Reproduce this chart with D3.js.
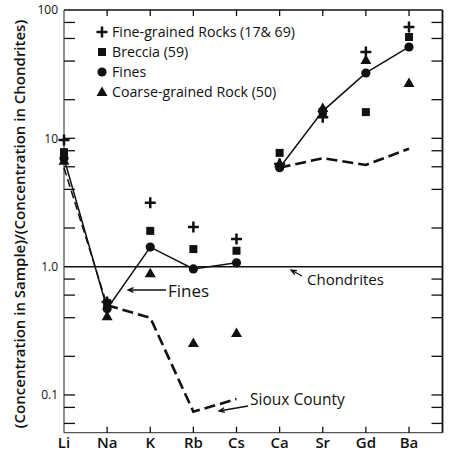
<!DOCTYPE html>
<html>
<head>
<meta charset="utf-8">
<script src="https://cdn.jsdelivr.net/npm/d3@7"></script>
<style>
  body { margin: 0; background: #fff; }
  text { font-family: "Open Sans", "DejaVu Sans", sans-serif; fill: #111; }
</style>
</head>
<body>
<script>
// Data
// =================================
var elements = ["Li", "Na", "K", "Rb", "Cs", "Ca", "Sr", "Gd", "Ba"];

var fineGrained = [9.7, 0.53, 3.14, 2.04, 1.64, 6.3, 14.6, 47, 73.7];
var breccia     = [7.8, 0.52, 1.9, 1.37, 1.33, 7.7, 16.0, 16.0, 61.6];
var fines       = [7.0, 0.47, 1.42, 0.96, 1.07, 5.9, 16.3, 32.3, 51.5];
var coarse      = [6.7, 0.41, 0.89, 0.254, 0.304, 6.4, 17.2, 40.8, 27.0];
var siouxCounty = [5.9, 0.5, 0.4, 0.074, 0.093, 5.9, 7.0, 6.2, 8.3];
var siouxGap = 5; // no dashed segment between Cs and Ca

var minorTicks = [0.06, 0.08, 0.2, 0.4, 0.6, 0.8, 2, 4, 6, 8, 20, 40, 60, 80];
var majorTicks = [0.1, 1, 10, 100];
var majorLabels = ["0.1", "1.0", "10", "100"];

var legendLabels = ["Fine-grained Rocks (17& 69)", "Breccia (59)", "Fines", "Coarse-grained Rock (50)"];
var legendShapes = ["plus", "square", "circle", "triangle"];

// Step 1: chart setup
// =================================
var svgWidth = 451;
var svgHeight = 453;
var plotLeft = 64, plotRight = 442.5, plotTop = 10, plotBottom = 432.7;

var svg = d3.select("body").append("svg")
  .attr("width", svgWidth)
  .attr("height", svgHeight);

svg.append("rect").attr("width", svgWidth).attr("height", svgHeight).attr("fill", "#fff");

var xScale = d3.scalePoint().domain(elements).range([64, 409]);
var yScale = d3.scaleLog().domain([0.0508, 100]).range([plotBottom, plotTop]);

// Step 2: frame and ticks
// =================================
var frame = svg.append("g").attr("stroke", "#111").attr("fill", "none");
frame.append("line").attr("x1", plotLeft).attr("x2", plotRight).attr("y1", plotTop).attr("y2", plotTop).attr("stroke-width", 1.4);
frame.append("line").attr("x1", plotLeft).attr("x2", plotRight).attr("y1", plotBottom).attr("y2", plotBottom).attr("stroke-width", 1.2).attr("stroke", "#555");
frame.append("line").attr("x1", plotLeft).attr("x2", plotLeft).attr("y1", plotTop).attr("y2", plotBottom).attr("stroke-width", 1.1).attr("stroke", "#333");
frame.append("line").attr("x1", plotRight).attr("x2", plotRight).attr("y1", plotTop).attr("y2", plotBottom).attr("stroke-width", 1.8);

var yTicks = minorTicks.concat([0.1, 10]);
frame.selectAll(".lt").data(yTicks).enter().append("line")
  .attr("x1", plotLeft).attr("x2", plotLeft + 11)
  .attr("y1", d => yScale(d)).attr("y2", d => yScale(d))
  .attr("stroke-width", 1.3);
frame.selectAll(".rt").data(yTicks).enter().append("line")
  .attr("x1", plotRight - 11).attr("x2", plotRight)
  .attr("y1", d => yScale(d)).attr("y2", d => yScale(d))
  .attr("stroke-width", 1.3);

frame.selectAll(".tt").data(elements.slice(1)).enter().append("line")
  .attr("x1", d => xScale(d)).attr("x2", d => xScale(d))
  .attr("y1", plotTop).attr("y2", plotTop + 6)
  .attr("stroke-width", 1.3);
frame.selectAll(".bt").data(elements.slice(1)).enter().append("line")
  .attr("x1", d => xScale(d)).attr("x2", d => xScale(d))
  .attr("y1", plotBottom).attr("y2", plotBottom - 6)
  .attr("stroke-width", 1.3);

svg.selectAll(".ylab").data(majorTicks).enter().append("text")
  .attr("x", 58)
  .attr("y", d => yScale(d))
  .attr("dy", "0.35em")
  .attr("text-anchor", "end")
  .attr("font-size", "12px")
  .text((d, i) => majorLabels[i]);

svg.selectAll(".xlab").data(elements).enter().append("text")
  .attr("x", d => xScale(d))
  .attr("y", 443)
  .attr("dy", "0.35em")
  .attr("text-anchor", "middle")
  .attr("font-size", "15px")
  .style("font-weight", "600")
  .text(d => d);

svg.append("text")
  .attr("transform", "translate(20, 224) rotate(-90)")
  .attr("text-anchor", "middle")
  .attr("dy", "0.35em")
  .attr("font-size", "15px")
  .style("font-weight", "600")
  .text("(Concentration in Sample)/(Concentration in Chondrites)");

// Step 3: lines
// =================================
// Chondrites reference
svg.append("line")
  .attr("x1", plotLeft).attr("x2", plotRight)
  .attr("y1", yScale(1)).attr("y2", yScale(1))
  .attr("stroke", "#111").attr("stroke-width", 1.5);

var line = d3.line()
  .x(d => xScale(d.el))
  .y(d => yScale(d.v));

var finesPts = elements.map((el, i) => ({el: el, v: fines[i]}));
[finesPts.slice(0, 5), finesPts.slice(5)].forEach(function(seg) {
  svg.append("path").attr("d", line(seg))
    .attr("fill", "none").attr("stroke", "#111").attr("stroke-width", 1.5);
});

var siouxPts = elements.map((el, i) => ({el: el, v: siouxCounty[i]}));
svg.append("path").attr("d", line(siouxPts.slice(0, 2)))
  .attr("fill", "none").attr("stroke", "#111").attr("stroke-width", 1.5)
  .attr("stroke-dasharray", "8,4");
[siouxPts.slice(1, siouxGap), siouxPts.slice(siouxGap)].forEach(function(seg) {
  svg.append("path").attr("d", line(seg))
    .attr("fill", "none").attr("stroke", "#111").attr("stroke-width", 2.6)
    .attr("stroke-dasharray", "11,5");
});

// Step 4: markers
// =================================
function drawMarker(g, shape, x, y) {
  if (shape === "plus") {
    g.append("path").attr("d", `M${x - 5.5},${y}H${x + 5.5}M${x},${y - 5.5}V${y + 5.5}`)
      .attr("stroke", "#111").attr("stroke-width", 2.5).attr("fill", "none");
  } else if (shape === "square") {
    g.append("rect").attr("x", x - 4).attr("y", y - 4).attr("width", 8).attr("height", 8).attr("fill", "#111");
  } else if (shape === "circle") {
    g.append("circle").attr("cx", x).attr("cy", y).attr("r", 4.6).attr("fill", "#111");
  } else {
    g.append("path").attr("d", `M${x},${y - 5.5}L${x + 5.5},${y + 4}L${x - 5.5},${y + 4}Z`).attr("fill", "#111");
  }
}

var marks = svg.append("g");
var seriesList = [fineGrained, breccia, fines, coarse];
[3, 1, 2, 0].forEach(function(s) {
  seriesList[s].forEach(function(v, i) {
    drawMarker(marks, legendShapes[s], xScale(elements[i]), yScale(v));
  });
});

// Step 5: legend and annotations
// =================================
var legend = svg.append("g");
legendLabels.forEach(function(lab, i) {
  var y = 32 + i * 20;
  drawMarker(legend, legendShapes[i], 102, y);
  legend.append("text").attr("x", 112).attr("y", y).attr("dy", "0.35em")
    .attr("font-size", "14.2px").text(lab);
});

function arrow(x1, y1, x2, y2) {
  var a = Math.atan2(y2 - y1, x2 - x1);
  var h = 6, w = 0.4;
  svg.append("path")
    .attr("d", `M${x1},${y1}L${x2},${y2}M${x2 - h * Math.cos(a - w)},${y2 - h * Math.sin(a - w)}L${x2},${y2}L${x2 - h * Math.cos(a + w)},${y2 - h * Math.sin(a + w)}`)
    .attr("stroke", "#111").attr("stroke-width", 1.3).attr("fill", "none");
}

arrow(166, 290, 128, 290);
svg.append("text").attr("x", 168).attr("y", 291).attr("dy", "0.35em").attr("font-size", "17px").text("Fines");

arrow(302, 276, 291, 270);
svg.append("text").attr("x", 307).attr("y", 280).attr("dy", "0.35em").attr("font-size", "15px").text("Chondrites");

arrow(248, 406, 219, 411);
svg.append("text").attr("x", 250).attr("y", 400).attr("dy", "0.35em").attr("font-size", "15.5px").text("Sioux County");
</script>
</body>
</html>
